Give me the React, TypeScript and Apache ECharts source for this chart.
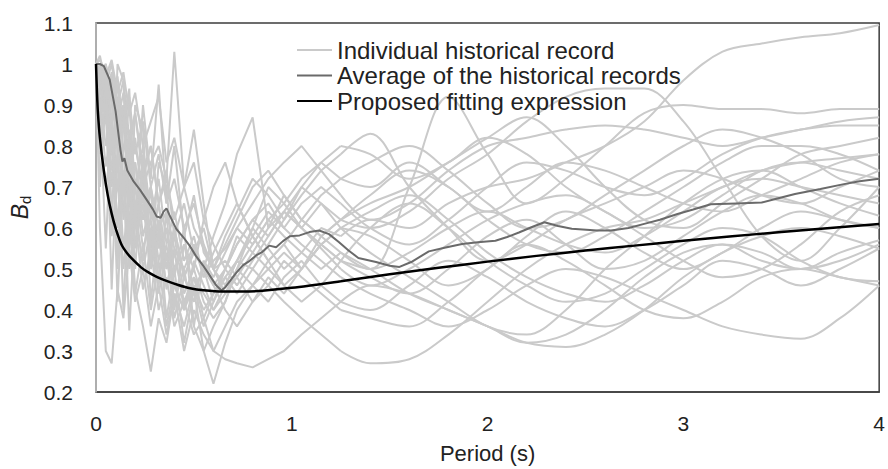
import React, { useEffect, useRef } from "react";
import * as echarts from "echarts";

const FONT = "'Liberation Sans', Arial, sans-serif";

// Shared period grid for the individual records (s)
const periods = [
  0, 0.02, 0.05, 0.08, 0.11, 0.14, 0.17, 0.2, 0.24, 0.28, 0.32, 0.36, 0.4, 0.45, 0.5, 0.55, 0.6,
  0.66, 0.72, 0.8, 0.88, 0.96, 1.05, 1.15, 1.25,
  1.4, 1.6, 1.8, 2.0, 2.2, 2.4, 2.6, 2.8, 3.0, 3.2, 3.4, 3.6, 3.8, 4.0,
];
// index where the smooth long-period part starts
const SPLIT = 24;

const rec01 = [1, 0.98, 0.9, 0.95, 0.82, 0.88, 0.7, 0.76, 0.62, 0.7, 0.55, 0.6, 0.5, 0.56, 0.45, 0.5, 0.42,
  0.48, 0.52, 0.6, 0.55, 0.5, 0.54, 0.6, 0.58,
  0.62, 0.6, 0.66, 0.7, 0.72, 0.76, 0.8, 0.86, 0.96, 1.03, 1.05, 1.065, 1.075, 1.095];
const rec02 = [1, 0.95, 1.0, 0.85, 0.92, 0.7, 0.8, 0.65, 0.74, 0.58, 0.66, 0.52, 0.6, 0.48, 0.55, 0.5, 0.46,
  0.5, 0.56, 0.62, 0.58, 0.64, 0.6, 0.66, 0.62,
  0.6, 0.64, 0.72, 0.78, 0.86, 0.92, 0.94, 0.94, 0.86, 0.72, 0.58, 0.52, 0.6, 0.7];
const rec03 = [1, 1.0, 0.92, 0.98, 0.85, 0.9, 0.76, 0.82, 0.66, 0.7, 0.6, 0.64, 0.55, 0.5, 0.56, 0.48, 0.52,
  0.55, 0.6, 0.56, 0.62, 0.66, 0.6, 0.56, 0.52,
  0.5, 0.7, 0.92, 0.78, 0.66, 0.72, 0.8, 0.88, 0.9, 0.89, 0.89, 0.88, 0.89, 0.89];
const rec04 = [1, 0.9, 0.96, 0.8, 0.88, 0.72, 0.78, 0.6, 0.68, 0.55, 0.62, 0.5, 0.58, 0.44, 0.5, 0.42, 0.38,
  0.42, 0.5, 0.46, 0.52, 0.56, 0.5, 0.58, 0.62,
  0.66, 0.7, 0.76, 0.82, 0.87, 0.8, 0.7, 0.62, 0.6, 0.66, 0.72, 0.78, 0.8, 0.82];
const rec05 = [1, 0.85, 0.95, 0.7, 0.88, 0.62, 0.8, 0.55, 0.72, 0.5, 0.62, 0.45, 0.55, 0.4, 0.48, 0.44, 0.4,
  0.46, 0.52, 0.5, 0.56, 0.62, 0.68, 0.74, 0.78,
  0.83, 0.7, 0.6, 0.52, 0.56, 0.62, 0.66, 0.7, 0.74, 0.72, 0.68, 0.66, 0.7, 0.74];
const rec06 = [1, 0.96, 0.88, 0.93, 0.8, 0.86, 0.74, 0.8, 0.7, 0.76, 0.8, 0.72, 1.03, 0.7, 0.6, 0.55, 0.5,
  0.52, 0.48, 0.54, 0.5, 0.46, 0.5, 0.56, 0.52,
  0.48, 0.44, 0.5, 0.58, 0.62, 0.56, 0.5, 0.52, 0.58, 0.64, 0.68, 0.66, 0.62, 0.6];
const rec07 = [1, 1.02, 0.95, 1.0, 0.9, 0.96, 0.82, 0.88, 0.74, 0.8, 0.66, 0.72, 0.62, 0.7, 0.84, 0.66, 0.5,
  0.44, 0.48, 0.42, 0.46, 0.52, 0.48, 0.44, 0.4,
  0.38, 0.36, 0.42, 0.5, 0.56, 0.52, 0.46, 0.4, 0.38, 0.42, 0.48, 0.5, 0.48, 0.46];
const rec08 = [1, 0.88, 0.99, 0.78, 0.9, 0.68, 0.84, 0.6, 0.74, 0.56, 0.66, 0.5, 0.6, 0.48, 0.54, 0.5, 0.58,
  0.66, 0.78, 0.87, 0.6, 0.68, 0.62, 0.58, 0.54,
  0.5, 0.54, 0.6, 0.64, 0.6, 0.56, 0.54, 0.58, 0.64, 0.7, 0.72, 0.7, 0.68, 0.66];
const rec09 = [1, 0.6, 0.3, 0.27, 0.45, 0.38, 0.55, 0.42, 0.5, 0.36, 0.46, 0.34, 0.44, 0.3, 0.4, 0.34, 0.3,
  0.36, 0.42, 0.46, 0.5, 0.54, 0.5, 0.56, 0.6,
  0.58, 0.52, 0.46, 0.5, 0.58, 0.64, 0.6, 0.54, 0.5, 0.54, 0.6, 0.64, 0.62, 0.6];
const rec10 = [1, 0.9, 0.75, 0.85, 0.6, 0.72, 0.5, 0.62, 0.45, 0.55, 0.4, 0.48, 0.36, 0.42, 0.34, 0.38, 0.3,
  0.28, 0.27, 0.26, 0.28, 0.3, 0.34, 0.38, 0.42,
  0.46, 0.44, 0.4, 0.36, 0.32, 0.34, 0.4, 0.48, 0.54, 0.56, 0.52, 0.5, 0.54, 0.57];
const rec11 = [1, 0.92, 0.8, 0.88, 0.7, 0.78, 0.62, 0.7, 0.55, 0.62, 0.48, 0.56, 0.42, 0.5, 0.36, 0.3, 0.22,
  0.32, 0.4, 0.46, 0.42, 0.48, 0.52, 0.46, 0.42,
  0.4, 0.46, 0.52, 0.48, 0.42, 0.38, 0.36, 0.4, 0.46, 0.52, 0.5, 0.46, 0.5, 0.55];
const rec12 = [1, 0.8, 0.9, 0.65, 0.78, 0.55, 0.68, 0.45, 0.36, 0.25, 0.38, 0.32, 0.44, 0.36, 0.46, 0.4, 0.44,
  0.5, 0.56, 0.62, 0.66, 0.6, 0.56, 0.52, 0.48,
  0.44, 0.4, 0.36, 0.4, 0.46, 0.5, 0.48, 0.44, 0.4, 0.36, 0.34, 0.33, 0.38, 0.46];
const rec13 = [1, 0.97, 1.0, 0.9, 0.97, 0.84, 0.92, 0.78, 0.86, 0.7, 0.78, 0.66, 0.72, 0.6, 0.66, 0.56, 0.5,
  0.46, 0.52, 0.58, 0.64, 0.6, 0.66, 0.7, 0.66,
  0.6, 0.56, 0.62, 0.7, 0.76, 0.74, 0.7, 0.68, 0.72, 0.78, 0.82, 0.84, 0.85, 0.85];
const rec14 = [1, 0.94, 0.86, 0.96, 0.78, 0.9, 0.68, 0.76, 0.58, 0.66, 0.52, 0.6, 0.46, 0.4, 0.46, 0.36, 0.42,
  0.5, 0.58, 0.54, 0.6, 0.64, 0.7, 0.66, 0.6,
  0.54, 0.48, 0.42, 0.36, 0.34, 0.4, 0.5, 0.58, 0.66, 0.72, 0.74, 0.7, 0.66, 0.63];
const rec15 = [1, 0.87, 0.94, 0.74, 0.84, 0.64, 0.76, 0.56, 0.66, 0.5, 0.58, 0.46, 0.54, 0.42, 0.48, 0.38, 0.44,
  0.48, 0.44, 0.5, 0.46, 0.42, 0.38, 0.34, 0.3,
  0.27, 0.28, 0.34, 0.42, 0.5, 0.56, 0.6, 0.62, 0.66, 0.7, 0.74, 0.76, 0.77, 0.78];
const rec16 = [1, 1.0, 0.97, 1.01, 0.93, 0.98, 0.88, 0.93, 0.8, 0.86, 0.92, 0.76, 0.82, 0.7, 0.76, 0.62, 0.56,
  0.5, 0.46, 0.52, 0.58, 0.64, 0.6, 0.55, 0.5,
  0.46, 0.5, 0.56, 0.62, 0.66, 0.68, 0.64, 0.58, 0.52, 0.48, 0.5, 0.56, 0.64, 0.68];
const rec17 = [1, 0.78, 0.88, 0.58, 0.72, 0.5, 0.64, 0.44, 0.56, 0.4, 0.52, 0.36, 0.46, 0.4, 0.52, 0.46, 0.4,
  0.44, 0.5, 0.56, 0.62, 0.58, 0.54, 0.5, 0.54,
  0.5, 0.44, 0.4, 0.36, 0.32, 0.31, 0.34, 0.4, 0.48, 0.54, 0.58, 0.6, 0.58, 0.55];
const rec18 = [1, 0.99, 0.92, 0.97, 0.86, 0.93, 0.8, 0.88, 0.72, 0.8, 0.66, 0.74, 0.58, 0.66, 0.54, 0.6, 0.5,
  0.56, 0.62, 0.7, 0.74, 0.68, 0.62, 0.58, 0.62,
  0.68, 0.74, 0.7, 0.62, 0.56, 0.54, 0.58, 0.64, 0.7, 0.76, 0.8, 0.8, 0.78, 0.74];
const rec19 = [1, 0.84, 0.7, 0.8, 0.62, 0.74, 0.55, 0.66, 0.5, 0.6, 0.44, 0.54, 0.38, 0.48, 0.42, 0.52, 0.46,
  0.4, 0.36, 0.42, 0.48, 0.44, 0.5, 0.56, 0.6,
  0.64, 0.68, 0.62, 0.54, 0.48, 0.44, 0.42, 0.46, 0.52, 0.56, 0.54, 0.5, 0.52, 0.56];
const rec20 = [1, 0.93, 0.98, 0.86, 0.95, 0.78, 0.9, 0.7, 0.8, 0.62, 0.72, 0.56, 0.64, 0.52, 0.58, 0.48, 0.54,
  0.6, 0.66, 0.58, 0.52, 0.56, 0.62, 0.68, 0.72,
  0.76, 0.8, 0.74, 0.66, 0.6, 0.62, 0.68, 0.74, 0.8, 0.84, 0.82, 0.78, 0.72, 0.7];
const rec21 = [1, 0.7, 0.95, 0.45, 0.8, 0.4, 0.72, 0.5, 0.78, 0.42, 0.6, 0.38, 0.5, 0.32, 0.45, 0.3, 0.36,
  0.42, 0.5, 0.6, 0.7, 0.66, 0.72, 0.76, 0.8,
  0.78, 0.72, 0.76, 0.82, 0.78, 0.7, 0.64, 0.6, 0.62, 0.68, 0.74, 0.76, 0.74, 0.72];
const rec22 = [1, 1.01, 0.98, 0.6, 1.0, 0.96, 0.55, 0.9, 0.84, 0.5, 0.76, 0.7, 0.48, 0.6, 0.36, 0.52, 0.48,
  0.54, 0.6, 0.66, 0.72, 0.76, 0.8, 0.74, 0.68,
  0.62, 0.66, 0.74, 0.8, 0.82, 0.84, 0.85, 0.84, 0.82, 0.8, 0.82, 0.84, 0.86, 0.87];
const rec23 = [1, 0.9, 0.55, 0.88, 0.42, 0.74, 0.35, 0.62, 0.52, 0.7, 0.46, 0.64, 0.4, 0.56, 0.5, 0.62, 0.7,
  0.76, 0.66, 0.58, 0.52, 0.46, 0.42, 0.46, 0.52,
  0.6, 0.66, 0.6, 0.52, 0.46, 0.42, 0.44, 0.5, 0.56, 0.6, 0.58, 0.52, 0.48, 0.47];
const rec24 = [1, 0.96, 1.0, 0.92, 0.5, 0.86, 0.94, 0.62, 0.9, 0.72, 0.95, 0.66, 0.8, 0.58, 0.68, 0.54, 0.5,
  0.58, 0.64, 0.72, 0.68, 0.62, 0.7, 0.76, 0.72,
  0.7, 0.76, 0.7, 0.64, 0.7, 0.76, 0.74, 0.7, 0.66, 0.64, 0.68, 0.72, 0.76, 0.78];

const records = [rec01, rec02, rec03, rec04, rec05, rec06, rec07, rec08, rec09, rec10, rec11, rec12,
  rec13, rec14, rec15, rec16, rec17, rec18, rec19, rec20, rec21, rec22, rec23, rec24];

// Average of the historical records [period, Bd]
const averageCurve = [
  [0, 1.0], [0.02, 1.0], [0.04, 0.995], [0.07, 0.962], [0.1, 0.885], [0.125, 0.79], [0.135, 0.762],
  [0.145, 0.77], [0.16, 0.74], [0.19, 0.715], [0.225, 0.693], [0.26, 0.668], [0.29, 0.646], [0.31, 0.628],
  [0.33, 0.625], [0.345, 0.64], [0.36, 0.648], [0.375, 0.632], [0.41, 0.598], [0.445, 0.578], [0.478, 0.557],
  [0.51, 0.532], [0.546, 0.509], [0.58, 0.485], [0.614, 0.46], [0.64, 0.448], [0.66, 0.455], [0.68, 0.468],
  [0.715, 0.49], [0.75, 0.509], [0.785, 0.52], [0.818, 0.533], [0.85, 0.542], [0.885, 0.557], [0.92, 0.553],
  [0.955, 0.568], [0.99, 0.58], [1.04, 0.582], [1.09, 0.59], [1.14, 0.594], [1.19, 0.585], [1.24, 0.566],
  [1.29, 0.545], [1.34, 0.527], [1.43, 0.517], [1.5, 0.508], [1.55, 0.505], [1.61, 0.517], [1.7, 0.543],
  [1.78, 0.552], [1.87, 0.561], [1.95, 0.565], [2.04, 0.569], [2.1, 0.578], [2.16, 0.589], [2.23, 0.603],
  [2.29, 0.614], [2.36, 0.605], [2.43, 0.598], [2.56, 0.594], [2.63, 0.594], [2.72, 0.6], [2.8, 0.61],
  [2.88, 0.62], [2.97, 0.634], [3.05, 0.645], [3.14, 0.658], [3.27, 0.66], [3.4, 0.662], [3.48, 0.672],
  [3.57, 0.683], [3.7, 0.695], [3.82, 0.707], [3.9, 0.714], [4.0, 0.72],
];

// Proposed fitting expression [period, Bd]
const fittingCurve = [
  [0, 1.0], [0.005, 0.93], [0.01, 0.88], [0.02, 0.82], [0.04, 0.74], [0.06, 0.68], [0.08, 0.635],
  [0.1, 0.6], [0.13, 0.56], [0.16, 0.538], [0.19, 0.522], [0.23, 0.504], [0.27, 0.491], [0.31, 0.481],
  [0.36, 0.471], [0.42, 0.461], [0.48, 0.453], [0.55, 0.448], [0.65, 0.445], [0.75, 0.445], [0.85, 0.447],
  [1.0, 0.454], [1.25, 0.47], [1.5, 0.487], [1.75, 0.503], [2.0, 0.518], [2.25, 0.532], [2.5, 0.545],
  [2.75, 0.557], [3.0, 0.569], [3.25, 0.58], [3.5, 0.59], [3.75, 0.6], [4.0, 0.61],
];

const NAME_REC = "Individual historical record";
const NAME_AVG = "Average of the historical records";
const NAME_FIT = "Proposed fitting expression";

const GREY = "#cacaca";
const AVG_COLOR = "#6a6a6a";

export default function App() {
  const ref = useRef<HTMLDivElement>(null);

  useEffect(() => {
    document.body.style.margin = "0";
    if (!ref.current) return;
    const chart = echarts.init(ref.current, null, { renderer: "svg" });

    const recSeries: any[] = [];
    records.forEach((vals) => {
      const pts = vals.map((v, i) => [periods[i], v]);
      // jagged short-period part
      recSeries.push({
        name: NAME_REC,
        type: "line",
        data: pts.slice(0, SPLIT + 1),
        symbol: "none",
        lineStyle: { color: GREY, width: 2 },
        itemStyle: { color: GREY },
        z: 2,
      });
      // smooth long-period part
      recSeries.push({
        name: NAME_REC,
        type: "line",
        data: pts.slice(SPLIT),
        symbol: "none",
        smooth: 0.35,
        lineStyle: { color: GREY, width: 2 },
        itemStyle: { color: GREY },
        z: 2,
      });
    });

    const option: any = {
      animation: false,
      grid: {
        left: 96, right: 6, top: 23, bottom: 75,
        show: true, borderColor: "#3c3c3c", borderWidth: 1.5,
      },
      legend: {
        orient: "vertical",
        left: 292,
        top: 33,
        icon: "rect",
        itemWidth: 35,
        itemHeight: 2,
        itemGap: 1.5,
        selectedMode: false,
        data: [
          { name: NAME_REC, itemStyle: { color: GREY } },
          { name: NAME_AVG, itemStyle: { color: AVG_COLOR } },
          { name: NAME_FIT, itemStyle: { color: "#000" } },
        ],
        textStyle: { fontSize: 24, color: "#222", fontFamily: FONT, lineHeight: 22 },
      },
      xAxis: {
        type: "value",
        min: 0, max: 4, interval: 1,
        name: "Period (s)",
        nameLocation: "middle",
        nameGap: 50,
        nameTextStyle: { fontSize: 22, color: "#222", fontFamily: FONT },
        axisLine: { show: true, onZero: false, lineStyle: { color: "#3c3c3c", width: 1.5 } },
        axisTick: { show: false },
        splitLine: { show: false },
        axisLabel: { fontSize: 21, color: "#222", fontFamily: FONT, margin: 21, showMinLabel: true, showMaxLabel: true },
      },
      yAxis: {
        type: "value",
        min: 0.2, max: 1.1, interval: 0.1,
        name: "{b|B}{d|d}",
        nameLocation: "middle",
        nameGap: 53,
        nameRotate: 90,
        nameTextStyle: {
          color: "#222",
          fontFamily: FONT,
          rich: {
            b: { fontSize: 23, fontStyle: "italic", fontFamily: FONT, color: "#222", lineHeight: 26 },
            d: { fontSize: 15, fontFamily: FONT, color: "#222", verticalAlign: "bottom", lineHeight: 20, padding: [8, 0, 0, 0] },
          },
        },
        z: 3,
        axisLine: { show: true, lineStyle: { color: "#c4c4c4", width: 1.5 } },
        axisTick: { show: false },
        splitLine: { show: false },
        axisLabel: {
          fontSize: 21, color: "#222", fontFamily: FONT, margin: 23,
          formatter: (v: number) => String(Math.round(v * 10) / 10),
        },
      },
      series: [
        ...recSeries,
        {
          name: NAME_AVG,
          type: "line",
          data: averageCurve,
          symbol: "none",
          lineStyle: { color: AVG_COLOR, width: 2 },
          itemStyle: { color: AVG_COLOR },
          z: 3,
        },
        {
          name: NAME_FIT,
          type: "line",
          data: fittingCurve,
          symbol: "none",
          smooth: 0.3,
          lineStyle: { color: "#000000", width: 2.5 },
          itemStyle: { color: "#000000" },
          z: 4,
        },
      ],
    };

    chart.setOption(option);
    return () => chart.dispose();
  }, []);

  return <div ref={ref} style={{ width: 888, height: 469 }} />;
}
